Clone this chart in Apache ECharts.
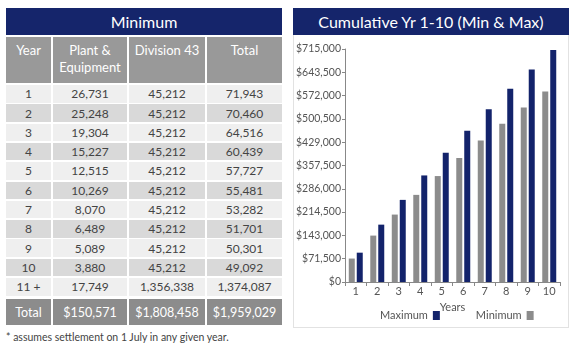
<!DOCTYPE html>
<html>
<head>
<meta charset="utf-8">
<script src="https://cdn.jsdelivr.net/npm/echarts@6/dist/echarts.min.js"></script>
<style>
  html, body { margin:0; padding:0; background:#fff; width:580px; height:352px; overflow:hidden; }
  body { font-family: "Lato", "DejaVu Sans", sans-serif; position:relative; }
  .abs { position:absolute; box-sizing:border-box; }
  .cell { position:absolute; box-sizing:border-box; display:flex; align-items:center; justify-content:center; text-align:center; color:#444; font-size:12px; white-space:nowrap; }
  .navy { background:#15256b; color:#fff; display:flex; align-items:center; justify-content:center; font-size:16px; }
</style>
</head>
<body>
<div id="tbl"></div>
<div class="abs" style="left:293px;top:35px;width:276px;height:293px;border:1px solid #e2e2e2;border-top:none;"></div>
<div class="abs navy" style="left:293px;top:8px;width:276px;height:27px;">Cumulative Yr 1-10 (Min &amp; Max)</div>
<div id="chart" class="abs" style="left:293px;top:35px;width:276px;height:293px;"></div>
<div class="abs" style="left:6px;top:331px;font-size:10.5px;color:#444;white-space:nowrap;">* assumes settlement on 1 July in any given year.</div>
<script>
// ---- Table data ----
const tableTitle = "Minimum";
const tableHeaders = ["Year", "Plant &<br>Equipment", "Division 43", "Total"];
const tableYears = ["1","2","3","4","5","6","7","8","9","10","11 +"];
const tablePlant = ["26,731","25,248","19,304","15,227","12,515","10,269","8,070","6,489","5,089","3,880","17,749"];
const tableDivision = ["45,212","45,212","45,212","45,212","45,212","45,212","45,212","45,212","45,212","45,212","1,356,338"];
const tableTotal = ["71,943","70,460","64,516","60,439","57,727","55,481","53,282","51,701","50,301","49,092","1,374,087"];
const tableTotalsRow = ["Total","$150,571","$1,808,458","$1,959,029"];

// ---- Chart data ----
const chartTitle = "Cumulative Yr 1-10 (Min & Max)";
const years = ["1","2","3","4","5","6","7","8","9","10"];
const minimumValues = [71943, 142403, 206919, 267358, 325085, 380566, 433848, 485549, 535850, 584942];
const maximumValues = [90000, 176000, 252000, 327000, 397000, 464000, 530000, 593000, 652000, 712000];
const yTickStep = 71500;
const yMax = 715000;

// ---- Build table ----
(function(){
  const t = document.getElementById('tbl');
  const colX = [6, 53, 129, 207];
  const colW = [45, 74, 76, 75];
  function add(x, y, w, h, html, bg, color, fs) {
    const d = document.createElement('div');
    d.className = 'cell';
    d.style.left = x+'px'; d.style.top = y+'px'; d.style.width = w+'px'; d.style.height = h+'px';
    d.style.background = bg; if (color) d.style.color = color; if (fs) d.style.fontSize = fs+'px';
    d.innerHTML = html; t.appendChild(d); return d;
  }
  add(6, 8, 276, 27, tableTitle, '#15256b', '#fff', 16);
  for (let c=0;c<4;c++) {
    const d = add(colX[c], 37, colW[c], 46, tableHeaders[c], '#999999', '#fff', 13);
    d.style.alignItems = 'flex-start'; d.style.paddingTop = '5px'; d.style.lineHeight='17px';
  }
  const cols = [tableYears, tablePlant, tableDivision, tableTotal];
  const pitch = 19.3;
  for (let r=0;r<tableYears.length;r++) {
    const y = 85 + r*pitch;
    const bg = (r%2===0) ? '#efefef' : '#d9d9d9';
    for (let c=0;c<4;c++) add(colX[c], y, colW[c], pitch-1.8, cols[c][r], bg);
  }
  for (let c=0;c<4;c++) add(colX[c], 299, colW[c], 26, tableTotalsRow[c], '#8c8c8c', '#fff', 12.5);
})();

// ---- Chart ----
const chart = echarts.init(document.getElementById('chart'), null, {renderer:'canvas'});
const fmt = v => '$' + v.toLocaleString('en-US');
chart.setOption({
  animation: false,
  textStyle: { fontFamily: 'Lato, "DejaVu Sans", sans-serif' },
  grid: { left: 52, right: 9, top: 14, bottom: 46 },
  legend: {
    data: ['Maximum', 'Minimum'],
    left: 82, top: 270,
    align: 'right',
    itemWidth: 7, itemHeight: 9, itemGap: 36,
    icon: 'rect',
    textStyle: { fontSize: 11, color: '#555', padding: [0, 0, 0, 0] }
  },
  xAxis: {
    type: 'category', data: years,
    name: 'Years', nameLocation: 'middle', nameGap: 14,
    nameTextStyle: { fontSize: 11, color: '#555' },
    axisLine: { lineStyle: { color: '#888' } },
    axisTick: { show: true, length: 4, lineStyle: { color: '#888' } },
    axisLabel: { fontSize: 11, color: '#555', margin: 4 }
  },
  yAxis: {
    type: 'value', min: 0, max: yMax, interval: yTickStep,
    axisLine: { show: true, lineStyle: { color: '#888' } },
    axisTick: { show: true, length: 3, lineStyle: { color: '#888' } },
    splitLine: { show: false },
    axisLabel: { fontSize: 10.5, color: '#555', margin: 4, formatter: fmt }
  },
  series: [
    { name: 'Minimum', type: 'bar', data: minimumValues, barWidth: 6, barGap: '33%', itemStyle: { color: '#8c8c8c' } },
    { name: 'Maximum', type: 'bar', data: maximumValues, barWidth: 6, barGap: '33%', itemStyle: { color: '#13236b' } }
  ]
});
</script>
</body>
</html>
